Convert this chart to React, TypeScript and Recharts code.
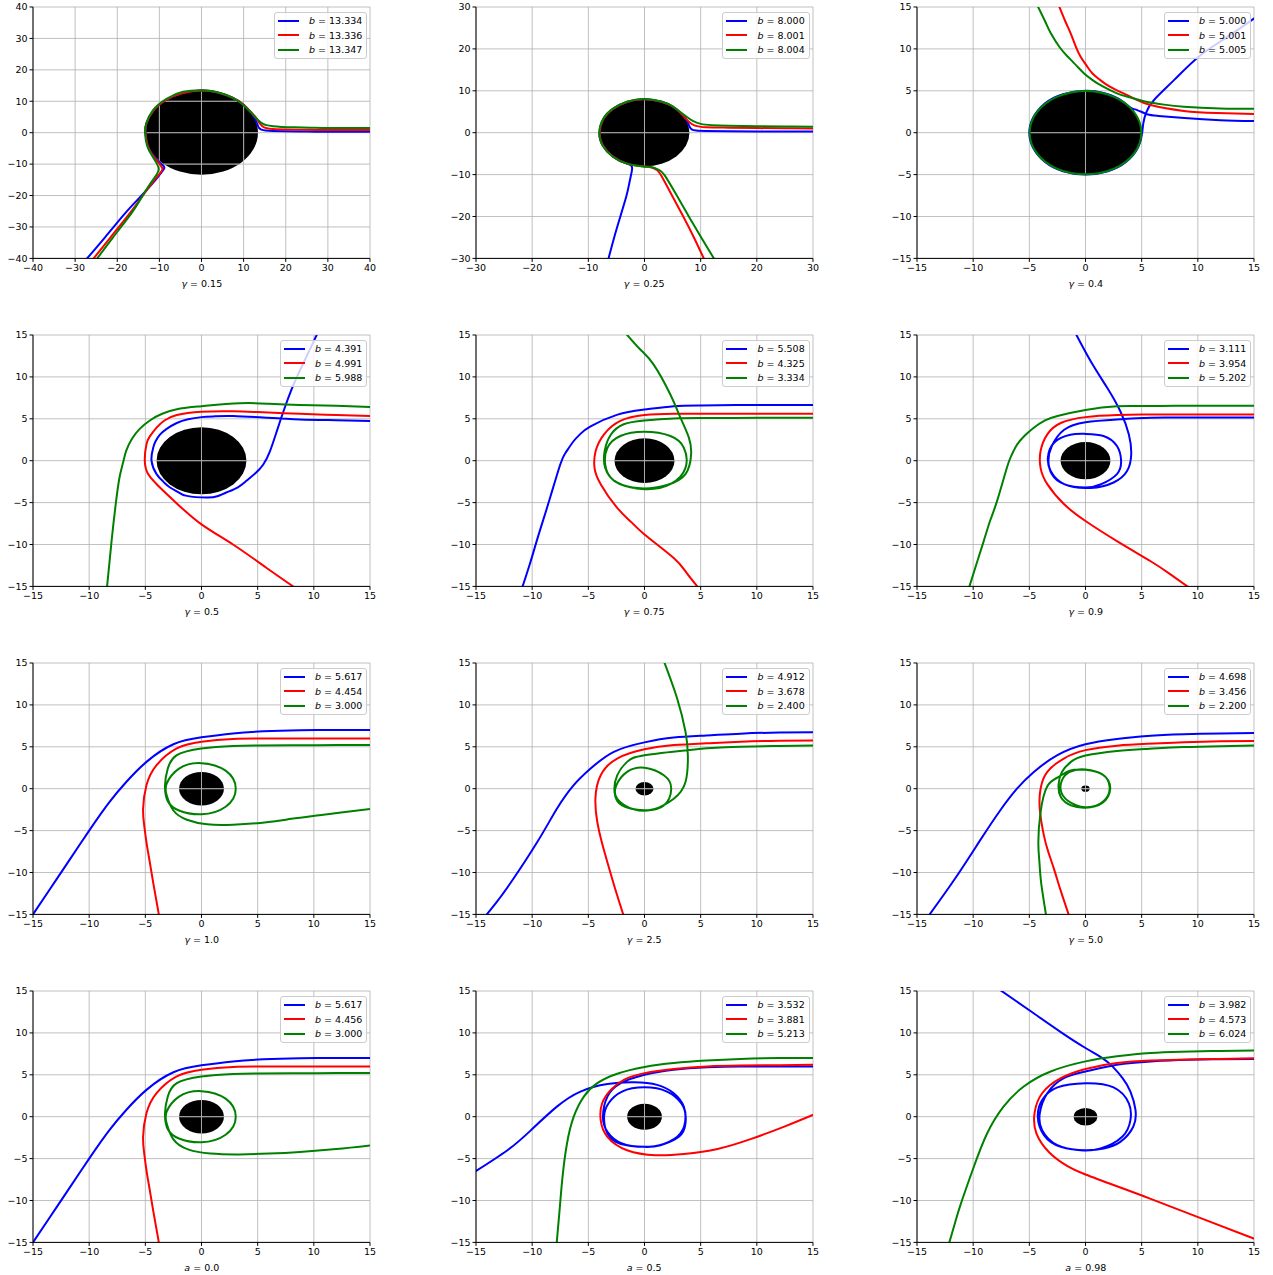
import React from 'react';
import { LineChart, Line, XAxis, YAxis, ReferenceArea, ReferenceLine } from 'recharts';

type Pt = [number, number];

const BLUE = '#0000ff';
const RED = '#ff0000';
const GREEN = '#008000';

// tick sets
const ticks40 = [-40, -30, -20, -10, 0, 10, 20, 30, 40];
const ticks30 = [-30, -20, -10, 0, 10, 20, 30];
const ticks15 = [-15, -10, -5, 0, 5, 10, 15];

// panel captions
const captionSymbols = ['γ', 'γ', 'γ', 'γ', 'γ', 'γ', 'γ', 'γ', 'γ', 'a', 'a', 'a'];
const captionValues = ['0.15', '0.25', '0.4', '0.5', '0.75', '0.9', '1.0', '2.5', '5.0', '0.0', '0.5', '0.98'];

// impact parameters (blue, red, green) per panel
const bValues = [
  ['13.334', '13.336', '13.347'],
  ['8.000', '8.001', '8.004'],
  ['5.000', '5.001', '5.005'],
  ['4.391', '4.991', '5.988'],
  ['5.508', '4.325', '3.334'],
  ['3.111', '3.954', '5.202'],
  ['5.617', '4.454', '3.000'],
  ['4.912', '3.678', '2.400'],
  ['4.698', '3.456', '2.200'],
  ['5.617', '4.456', '3.000'],
  ['3.532', '3.881', '5.213'],
  ['3.982', '4.573', '6.024'],
];

// horizon radius drawn as the black disk
const horizonRadii = [13.4, 8, 5, 4, 2.67, 2.22, 2, 0.8, 0.37, 2, 1.55, 1.05];

// --- trajectories ---
const p1Blue: Pt[] = [[42, 0.3], [36, 0.3], [30, 0.3], [25, 0.35], [20, 0.45], [17, 0.55], [15.2, 0.7], [14.2, 1.0], [13.6, 1.6], [13.3, 2.6], [12.7, 4.4], [11.6, 6.6], [10, 8.9], [7.5, 11.1], [3.6, 12.9], [0, 13.4], [-4.4, 12.65], [-8.3, 10.5], [-11.5, 6.9], [-13.1, 2.8], [-13.3, 0], [-12.8, -4], [-11.5, -7.1], [-10, -9.4], [-9, -10.6], [-8.9, -11.5], [-9.5, -12.6], [-11, -15.2], [-14.5, -20.4], [-18.1, -25.6], [-22.9, -33.3], [-27.8, -41]];
const p1Red: Pt[] = [[42, 0.85], [36, 0.85], [30, 0.85], [25, 0.9], [20, 1.0], [17, 1.15], [15.5, 1.4], [14.6, 1.9], [13.8, 3.0], [13.1, 4.5], [12, 6.2], [10, 8.9], [7.5, 11.1], [3.6, 12.9], [0, 13.4], [-4.4, 12.65], [-8.3, 10.5], [-11.5, 6.9], [-13.1, 2.8], [-13.3, 0], [-12.8, -4], [-11.6, -7.2], [-10.3, -9.4], [-9.5, -10.8], [-9.3, -11.8], [-10, -13.2], [-11.6, -15.8], [-14.3, -20.7], [-17, -25.6], [-21.6, -33.3], [-26.2, -41]];
const p1Green: Pt[] = [[42, 1.5], [36, 1.5], [30, 1.5], [26, 1.6], [22, 1.7], [19, 1.85], [17, 2.05], [15.4, 2.4], [14.5, 2.9], [13.6, 3.8], [12.3, 5.6], [10.3, 8.4], [7.5, 11.0], [3.6, 12.95], [0, 13.5], [-4.4, 13.0], [-8.3, 10.8], [-11.5, 7.2], [-13.1, 3.0], [-13.4, 0], [-12.9, -4.2], [-11.7, -7.4], [-10.7, -9.6], [-10.2, -11.2], [-10.5, -13], [-12.3, -16.5], [-14.4, -21], [-16.6, -25.6], [-21, -33.3], [-25.3, -41]];

const p2Blue: Pt[] = [[32, 0.25], [26, 0.27], [20, 0.3], [15, 0.33], [11, 0.4], [9.2, 0.5], [8.4, 0.8], [8.0, 1.5], [7.6, 2.7], [6.6, 4.5], [5, 6.25], [3, 7.4], [0, 8], [-3, 7.4], [-5.6, 5.7], [-7.3, 3.3], [-8, 0], [-7.4, -3.05], [-5.6, -5.7], [-3.6, -7.15], [-2.4, -7.8], [-2.2, -8.6], [-2.35, -9.8], [-2.7, -12], [-3.2, -15], [-4.3, -20], [-5.4, -25], [-6.6, -31]];
const p2Red: Pt[] = [[32, 1.0], [26, 1.05], [20, 1.1], [15, 1.2], [11, 1.3], [9, 1.7], [8, 2.5], [7.2, 3.6], [6.3, 4.9], [5, 6.25], [3, 7.4], [0, 8], [-3, 7.4], [-5.6, 5.7], [-7.3, 3.3], [-8, 0], [-7.4, -3.05], [-5.6, -5.7], [-3, -7.45], [0, -8.05], [1.3, -8.3], [2.2, -8.9], [3, -10.3], [4.9, -15], [6.9, -20], [8.8, -25], [10.9, -31]];
const p2Green: Pt[] = [[32, 1.4], [26, 1.45], [20, 1.55], [15, 1.65], [12, 1.8], [10, 2.1], [8.6, 2.8], [7.6, 3.7], [6.5, 4.8], [5, 6.3], [3, 7.45], [0, 8.05], [-3, 7.45], [-5.6, 5.75], [-7.35, 3.3], [-8.05, 0], [-7.45, -3.1], [-5.65, -5.75], [-3, -7.45], [0, -8.1], [1.5, -8.3], [2.6, -8.9], [3.6, -10.2], [5.75, -15], [7.9, -20], [10.1, -25], [12.8, -31]];

const p3Blue: Pt[] = [[15.5, 1.38], [12, 1.5], [8.8, 1.75], [6.5, 2.0], [5.5, 2.2], [4.6, 2.7], [4.0, 3.0], [3, 4.0], [1.6, 4.75], [0, 5], [-2, 4.6], [-3.6, 3.5], [-4.7, 1.7], [-5, 0], [-4.7, -1.7], [-3.6, -3.5], [-2, -4.6], [0, -5], [2, -4.6], [3.6, -3.5], [4.7, -1.7], [5.05, 0], [5.15, 1.15], [5.4, 2.4], [6.1, 3.9], [7.9, 6.3], [10.1, 9.1], [12.6, 11.4], [15.5, 14.1]];
const p3Red: Pt[] = [[-2.5, 15.6], [-1.8, 13.3], [-1.34, 11.9], [-0.9, 10.4], [-0.45, 9.1], [0.1, 8.0], [0.6, 7.1], [1.2, 6.4], [1.8, 5.8], [2.8, 5.05], [4.3, 4.1], [5.8, 3.3], [8.76, 2.6], [11.7, 2.35], [15.5, 2.2]];
const p3Green: Pt[] = [[-4.4, 15.5], [-3.6, 13.3], [-3.1, 11.9], [-2.3, 10.2], [-1.6, 9.1], [-0.8, 8.0], [-0.15, 7.1], [0.6, 6.3], [1.3, 5.7], [2.8, 4.7], [4.0, 4.2], [5.2, 3.75], [7, 3.35], [8.76, 3.1], [12, 2.9], [15.5, 2.85]];
// green rim traced on the horizon of the gamma = 0.4 panel
const p3Rim: Pt[] = [[5.03, 0], [4.86, 1.3], [4.36, 2.52], [3.56, 3.56], [2.52, 4.36], [1.3, 4.86], [0, 5.03], [-1.3, 4.86], [-2.52, 4.36], [-3.56, 3.56], [-4.36, 2.52], [-4.86, 1.3], [-5.03, 0], [-4.86, -1.3], [-4.36, -2.52], [-3.56, -3.56], [-2.52, -4.36], [-1.3, -4.86], [0, -5.03], [1.3, -4.86], [2.52, -4.36], [3.56, -3.56], [4.36, -2.52], [4.86, -1.3]];

const p4Blue: Pt[] = [[15.5, 4.72], [12, 4.83], [8.76, 4.93], [5.8, 5.13], [2.8, 5.33], [1.2, 5.3], [0, 5.2], [-1.2, 4.95], [-2.2, 4.5], [-3.1, 3.8], [-3.7, 3.1], [-4.1, 2.3], [-4.3, 1.55], [-4.45, 0], [-4.0, -1.6], [-3.4, -2.5], [-2.8, -3.2], [-2, -3.8], [-1.3, -4.2], [0.45, -4.4], [1.4, -4.25], [2.2, -3.8], [3.2, -3.2], [4.0, -2.4], [4.8, -1.5], [5.5, -0.45], [6.1, 1.15], [6.7, 3.5], [7.3, 5.9], [8.2, 9.1], [9.2, 12.0], [10.5, 15.7]];
const p4Red: Pt[] = [[15.5, 5.3], [12, 5.45], [8.76, 5.6], [5, 5.8], [2.8, 5.9], [0, 5.85], [-2.2, 5.45], [-3.3, 4.8], [-4.0, 3.94], [-4.6, 2.9], [-4.9, 1.95], [-5.05, 0], [-4.75, -1.6], [-4.2, -2.5], [-3.7, -3.2], [-2.2, -5.1], [0, -7.6], [2.8, -10], [5.8, -12.8], [8.8, -15.6]];
const p4Green: Pt[] = [[15.5, 6.4], [12, 6.55], [8.76, 6.65], [6, 6.8], [3.4, 6.85], [0, 6.5], [-2, 6.2], [-3.5, 5.6], [-4.6, 4.8], [-5.5, 3.8], [-6.2, 2.6], [-6.7, 1.2], [-7.0, -0.3], [-7.3, -2.0], [-7.6, -4.8], [-8.0, -9.5], [-8.45, -15.6]];

const p5Blue: Pt[] = [[15.5, 6.65], [12, 6.65], [8.4, 6.65], [5, 6.6], [2.6, 6.5], [0, 6.1], [-2.4, 5.5], [-4.8, 4.1], [-5.7, 3.2], [-6.3, 2.35], [-7.0, 1.0], [-7.5, -0.45], [-8.4, -4.4], [-9.0, -7.0], [-9.6, -9.6], [-10.2, -12.3], [-11.0, -15.6]];
const p5Red: Pt[] = [[15.5, 5.6], [12, 5.6], [8, 5.6], [5, 5.6], [2.6, 5.6], [0, 5.45], [-2.15, 4.75], [-3.6, 3.15], [-4.35, 1.15], [-4.45, -0.85], [-3.9, -2.8], [-2.45, -5.6], [-1.2, -7.3], [0, -8.8], [2.6, -11.6], [3.7, -13.3], [5.0, -15.5]];
const p5Green: Pt[] = [[15.5, 5.13], [12, 5.13], [8, 5.1], [5, 5.1], [2.6, 5.05], [0, 4.8], [-1.85, 4.35], [-3.0, 3.1], [-3.55, 1.15], [-3.5, -0.85], [-2.45, -2.6], [0, -3.4], [2.3, -2.8], [3.65, -0.85], [3.5, 1.55], [2.3, 2.95], [0, 3.45], [-2.15, 2.95], [-3.3, 1.55], [-3.5, -0.45], [-2.7, -2.4], [-0.35, -3.3], [2.0, -2.9], [3.65, -1.6], [4.15, 0.75], [3.95, 2.75], [3.2, 5.13], [2.3, 7.9], [0.8, 11.5], [-0.4, 13.3], [-1.8, 15.4]];

const p6Blue: Pt[] = [[15.5, 5.15], [12, 5.15], [8.5, 5.14], [5.8, 5.13], [2.8, 4.93], [0, 4.6], [-1.9, 3.7], [-3.0, 1.75], [-3.3, 0], [-3.0, -1.6], [-1.9, -2.8], [0, -3.2], [1.4, -2.8], [2.8, -1.6], [3.17, 0], [2.8, 1.75], [1.6, 2.95], [0, 3.2], [-1.35, 3.1], [-2.8, 2.15], [-3.35, 0.35], [-3.1, -1.23], [-1.9, -2.8], [0.45, -3.25], [2.5, -2.6], [3.7, -1.23], [4.07, 0.75], [3.86, 3.14], [3.1, 5.9], [1.93, 8.7], [0.45, 11.9], [-1.0, 15.5]];
const p6Red: Pt[] = [[15.5, 5.5], [12, 5.52], [8, 5.5], [5, 5.5], [2.8, 5.45], [0, 5.2], [-2.2, 4.5], [-3.4, 3.14], [-4.0, 1.15], [-4.0, -0.85], [-3.4, -2.8], [-1.9, -5.2], [0, -7.2], [2.8, -9.6], [5.8, -12], [7.5, -13.5], [9.6, -15.5]];
const p6Green: Pt[] = [[15.5, 6.55], [12, 6.55], [8, 6.55], [5, 6.52], [2.8, 6.5], [0, 6.05], [-2.5, 5.33], [-3.6, 4.8], [-4.6, 3.94], [-5.4, 3.0], [-6.1, 1.9], [-6.6, 0.6], [-7.0, -0.85], [-7.87, -4.8], [-8.5, -7.2], [-9.06, -9.6], [-9.7, -12.3], [-10.45, -15.5]];

const p7Blue: Pt[] = [[15.5, 7.0], [12, 7.0], [8.76, 6.97], [5.5, 6.85], [2.8, 6.6], [0, 6.13], [-2.5, 5.3], [-4.9, 3.2], [-6.7, 0.8], [-8.2, -1.6], [-10, -5], [-12, -9], [-13.5, -12], [-15.3, -15.6]];
const p7Red: Pt[] = [[15.5, 6.0], [12, 6.0], [8, 6.0], [5, 5.98], [2.8, 5.93], [0, 5.6], [-2.2, 4.8], [-4.0, 2.8], [-4.9, 0.4], [-5.2, -2.4], [-5.1, -4.4], [-4.9, -6.4], [-4.6, -8.8], [-4.3, -11.2], [-3.72, -15.6]];
const p7Green: Pt[] = [[15.5, 5.2], [12, 5.2], [8, 5.18], [5, 5.15], [2.8, 5.1], [0, 4.8], [-2.2, 4.0], [-3.0, 2.4], [-3.25, 0.4], [-3.0, -1.5], [-2.0, -2.6], [0, -3.05], [2.15, -2.15], [3.05, 0], [2.15, 2.15], [0, 3.05], [-2.0, 2.4], [-3.1, 0.6], [-3.1, -0.8], [-2.5, -2.6], [-1.3, -3.7], [0.5, -4.25], [2.8, -4.3], [5.8, -4.0], [8, -3.6], [10.25, -3.2], [12.6, -2.8], [15.5, -2.35]];

const p8Blue: Pt[] = [[15.5, 6.73], [12, 6.7], [8.55, 6.57], [5.5, 6.35], [2.6, 6.1], [0, 5.53], [-2.73, 4.4], [-4.8, 2.4], [-6.3, 0.42], [-7.8, -2.4], [-9.56, -6.4], [-11.9, -11.2], [-13.2, -13.6], [-14.4, -15.6]];
const p8Red: Pt[] = [[15.5, 5.77], [12, 5.72], [8.55, 5.6], [5.5, 5.42], [2.6, 5.2], [0, 4.7], [-2.43, 3.6], [-3.9, 1.6], [-4.37, -1.2], [-4.2, -4.0], [-3.8, -6.4], [-3.3, -8.8], [-2.6, -12], [-1.75, -15.6]];
const p8Green: Pt[] = [[15.5, 5.17], [12, 5.1], [8.55, 5.0], [6, 4.85], [3.8, 4.6], [0, 4.0], [-1.55, 3.2], [-2.43, 1.6], [-2.67, -0.38], [-2.0, -2.0], [0, -2.58], [1.72, -2.0], [2.38, 0], [1.72, 1.6], [0, 2.5], [-1.55, 2.0], [-2.5, 0.42], [-2.43, -1.2], [-0.95, -2.46], [0.83, -2.46], [2.6, -1.2], [3.65, 0.8], [3.86, 4.0], [3.65, 6.8], [2.9, 10.8], [1.65, 15.5]];

const p9Blue: Pt[] = [[15.5, 6.65], [12, 6.6], [8.76, 6.5], [5.5, 6.3], [2.8, 5.93], [0, 5.3], [-2.5, 4.0], [-4.6, 2.0], [-6.1, 0], [-7.6, -2.6], [-9.4, -6.2], [-11.7, -10.9], [-14.2, -15.6]];
const p9Red: Pt[] = [[15.5, 5.7], [12, 5.65], [8.76, 5.53], [5.5, 5.35], [2.8, 5.13], [0, 4.6], [-1.93, 3.6], [-3.4, 2.0], [-4.0, 0], [-4.07, -2.4], [-3.7, -5.6], [-3.3, -7.6], [-2.8, -9.6], [-2.2, -12.2], [-1.35, -15.6]];
const p9Green: Pt[] = [[15.5, 5.15], [12, 5.08], [8.76, 4.97], [5.5, 4.75], [2.8, 4.5], [0, 3.95], [-1.3, 3.2], [-2.1, 2.0], [-2.4, 0.5], [-2.2, -1.0], [-1.3, -2.0], [0, -2.28], [1.5, -1.7], [2.2, 0], [1.6, 1.6], [0, 2.3], [-1.4, 2.0], [-2.1, 1.0], [-2.2, -0.2], [-1.6, -1.4], [0, -2.2], [1.6, -1.5], [2.15, 0.2], [1.5, 1.7], [0, 2.25], [-1.4, 2.15], [-2.4, 1.4], [-3.4, 0.3], [-4.0, -2.8], [-4.2, -6.4], [-4.1, -8.8], [-3.95, -11.2], [-3.45, -15.6]];

const p10Blue: Pt[] = [[15.5, 7.0], [12, 7.0], [8.76, 6.97], [5.5, 6.85], [2.8, 6.6], [0, 6.13], [-2.5, 5.3], [-4.9, 3.2], [-6.7, 0.8], [-8.2, -1.6], [-10, -5], [-12, -9], [-13.5, -12], [-15.3, -15.6]];
const p10Red: Pt[] = [[15.5, 6.0], [12, 6.0], [8, 6.0], [5, 5.98], [2.8, 5.93], [0, 5.6], [-2.2, 4.8], [-4.0, 2.8], [-4.9, 0.4], [-5.2, -2.4], [-5.1, -4.4], [-4.9, -6.4], [-4.6, -8.8], [-4.3, -11.2], [-3.72, -15.6]];
const p10Green: Pt[] = [[15.5, 5.2], [12, 5.2], [8, 5.18], [5, 5.15], [2.8, 5.1], [0, 4.8], [-2.2, 4.0], [-3.0, 2.4], [-3.25, 0.4], [-3.0, -1.5], [-2.0, -2.6], [0, -3.05], [2.15, -2.15], [3.05, 0], [2.15, 2.15], [0, 3.05], [-2.0, 2.4], [-3.1, 0.6], [-3.1, -0.8], [-2.5, -2.7], [-1.2, -3.9], [0.8, -4.4], [3.4, -4.5], [6, -4.4], [8.76, -4.2], [12, -3.85], [15.5, -3.35]];

const p11Blue: Pt[] = [[-15.5, -6.9], [-12.2, -4.0], [-10.1, -1.6], [-7.8, 1.2], [-5.7, 3.0], [-3.3, 3.9], [-0.95, 4.1], [1.13, 3.8], [2.6, 2.8], [3.5, 1.2], [3.65, -0.8], [3.06, -2.4], [1.43, -3.4], [0, -3.6], [-2.1, -3.25], [-3.3, -2.0], [-3.6, 0], [-3.2, 1.6], [-2.0, 3.0], [0, 3.5], [2.0, 3.0], [3.27, 1.6], [3.65, 0], [3.2, -2.0], [1.72, -3.25], [0, -3.6], [-2.0, -3.2], [-3.3, -1.8], [-3.7, 0], [-3.3, 2.4], [-2.1, 4.0], [0, 5.0], [2.6, 5.6], [5.6, 5.9], [8.5, 6.0], [12, 6.0], [15.5, 6.0]];
const p11Red: Pt[] = [[15.5, 0.5], [12.5, -1.15], [9.5, -2.65], [6.5, -3.85], [3.5, -4.45], [1.0, -4.6], [-1.55, -4.0], [-3.3, -2.4], [-3.9, -0.4], [-3.77, 1.6], [-3.0, 3.2], [-1.84, 4.4], [0, 5.2], [2.6, 5.7], [5.6, 6.0], [8.5, 6.1], [12, 6.15], [15.5, 6.2]];
const p11Green: Pt[] = [[15.5, 7.0], [12, 7.0], [8.55, 6.9], [5.5, 6.7], [2.6, 6.4], [0, 5.93], [-2.43, 5.13], [-4.2, 4.0], [-5.4, 2.4], [-6.3, 0], [-6.9, -3.2], [-7.3, -7.2], [-7.55, -11], [-7.85, -15.6]];

const p12Blue: Pt[] = [[-7.9, 15.4], [-5.0, 12.7], [-2.2, 10.1], [0, 8.2], [1.5, 7.0], [2.4, 6.0], [3.3, 4.6], [4.0, 3.0], [4.45, 0.8], [4.25, -1.2], [3.1, -3.0], [1.63, -3.8], [0, -4.0], [-2.2, -3.6], [-3.7, -2.2], [-4.25, 0], [-3.86, 2.0], [-2.5, 3.5], [0, 4.0], [2.5, 3.5], [3.86, 1.6], [4.0, -0.4], [3.27, -2.4], [1.34, -3.8], [-0.45, -4.0], [-2.5, -3.4], [-3.86, -1.6], [-4.07, 0.4], [-3.4, 2.8], [-1.93, 4.6], [0, 5.4], [2.8, 6.2], [5.8, 6.6], [9, 6.8], [12, 6.85], [15.5, 6.9]];
const p12Red: Pt[] = [[15.5, 7.0], [12, 6.9], [8.5, 6.8], [5.8, 6.7], [2.8, 6.4], [0, 5.7], [-2.2, 4.6], [-3.86, 2.8], [-4.54, 0.4], [-4.37, -2.0], [-3.2, -4.3], [-1.6, -5.9], [0, -6.9], [2.8, -8.3], [5.8, -9.8], [10.25, -12.1], [15.5, -14.8]];
const p12Green: Pt[] = [[15.5, 7.9], [12, 7.85], [8.5, 7.75], [5.8, 7.6], [2.8, 7.2], [0, 6.6], [-3.1, 5.4], [-5.5, 3.6], [-7.3, 1.2], [-8.76, -2.0], [-9.95, -6.0], [-11.1, -10.4], [-11.6, -12.6], [-12.25, -15.6]];

const curves: Pt[][][] = [
  [p1Blue, p1Red, p1Green],
  [p2Blue, p2Red, p2Green],
  [p3Blue, p3Red, p3Green],
  [p4Blue, p4Red, p4Green],
  [p5Blue, p5Red, p5Green],
  [p6Blue, p6Red, p6Green],
  [p7Blue, p7Red, p7Green],
  [p8Blue, p8Red, p8Green],
  [p9Blue, p9Red, p9Green],
  [p10Blue, p10Red, p10Green],
  [p11Blue, p11Red, p11Green],
  [p12Blue, p12Red, p12Green],
];
const colors = [BLUE, RED, GREEN];

// layout: top-left corner of each plot area on the page
const colLefts = [33.3, 475.7, 917.3];
const rowTops = [7.3, 335.3, 663.3, 991.3];
const PLOT_W = 337;
const PLOT_H = 251.4;
const M_LEFT = 33; // margin.left + y-axis width
const M_TOP = 7;
const CHART_W = M_LEFT + PLOT_W + 10;
const CHART_H = M_TOP + PLOT_H + 40;
const FONT = 'DejaVu Sans, sans-serif';
const FS = 9.5;
const GRID = '#b0b0b0';

const fmt = (v: number) => (v < 0 ? '\u2212' + Math.abs(v) : String(v));
const toRows = (pts: Pt[]) => pts.map(([x, y]) => ({ x, y }));

const tickStyle = { fontSize: FS, fill: '#000', fontFamily: FONT };

// black disk, with the grid lines that cross it drawn again on top
const makeDisk = (ticks: number[], r: number) => (p: any) => {
  const cx = p.x + p.width / 2;
  const cy = p.y + p.height / 2;
  const kx = p.width / (2 * r);
  const ky = p.height / (2 * r);
  const inner = ticks.filter((t) => Math.abs(t) < r);
  return (
    <g>
      <ellipse cx={cx} cy={cy} rx={p.width / 2} ry={p.height / 2} fill="#000" />
      {inner.map((t) => {
        const h = Math.sqrt(r * r - t * t);
        return (
          <line key={'v' + t} x1={cx + t * kx} x2={cx + t * kx} y1={cy - h * ky} y2={cy + h * ky} stroke={GRID} strokeWidth={0.8} />
        );
      })}
      {inner.map((t) => {
        const h = Math.sqrt(r * r - t * t);
        return (
          <line key={'h' + t} x1={cx - h * kx} x2={cx + h * kx} y1={cy - t * ky} y2={cy - t * ky} stroke={GRID} strokeWidth={0.8} />
        );
      })}
    </g>
  );
};

const Panel = ({ idx }: { idx: number }) => {
  const ticks = idx === 0 ? ticks40 : idx === 1 ? ticks30 : ticks15;
  const dom: [number, number] = [ticks[0], ticks[ticks.length - 1]];
  const r = horizonRadii[idx];
  const left = colLefts[idx % 3] - M_LEFT;
  const top = rowTops[Math.floor(idx / 3)] - M_TOP;

  return (
    <div style={{ position: 'absolute', left, top, width: CHART_W, height: CHART_H + 4 }}>
      <LineChart width={CHART_W} height={CHART_H} margin={{ top: M_TOP, right: 10, bottom: 0, left: 3 }}>
        <XAxis
          type="number"
          dataKey="x"
          domain={dom}
          ticks={ticks}
          interval={0}
          allowDataOverflow
          height={40}
          tickSize={3.5}
          tickMargin={2.5}
          tick={tickStyle}
          tickFormatter={fmt}
          stroke="#000"
        />
        <YAxis
          type="number"
          dataKey="y"
          domain={dom}
          ticks={ticks}
          interval={0}
          allowDataOverflow
          width={30}
          tickSize={3.5}
          tickMargin={2}
          tick={tickStyle}
          tickFormatter={fmt}
          stroke="#000"
        />
        <XAxis xAxisId="top" orientation="top" type="number" domain={dom} allowDataOverflow height={0} tick={false} tickLine={false} stroke="#000" />
        <YAxis yAxisId="right" orientation="right" type="number" domain={dom} allowDataOverflow width={0} tick={false} tickLine={false} stroke="#000" />
        {ticks.map((t) => (
          <ReferenceLine key={'gx' + t} x={t} stroke={GRID} strokeWidth={0.8} />
        ))}
        {ticks.map((t) => (
          <ReferenceLine key={'gy' + t} y={t} stroke={GRID} strokeWidth={0.8} />
        ))}
        <ReferenceArea x1={-r} x2={r} y1={-r} y2={r} shape={makeDisk(ticks, r)} />
        {curves[idx].map((pts, k) => (
          <Line
            key={k}
            data={toRows(pts)}
            dataKey="y"
            type="natural"
            stroke={colors[k]}
            strokeWidth={2}
            dot={false}
            activeDot={false}
            isAnimationActive={false}
          />
        ))}
        {idx === 2 && (
          <Line
            data={toRows(p3Rim)}
            dataKey="y"
            type="basisClosed"
            stroke={GREEN}
            strokeWidth={2}
            dot={false}
            activeDot={false}
            isAnimationActive={false}
          />
        )}
      </LineChart>
      <div
        style={{
          position: 'absolute',
          top: M_TOP + 4.5,
          right: 13,
          border: '1px solid #cccccc',
          borderRadius: 3,
          background: 'rgba(255,255,255,0.8)',
          padding: '1px 4px 1px 3px',
          fontSize: FS,
          fontFamily: FONT,
          color: '#000',
        }}
      >
        {bValues[idx].map((b, k) => (
          <div key={k} style={{ display: 'flex', alignItems: 'center', height: 14.4, whiteSpace: 'nowrap' }}>
            <svg width={21} height={4} style={{ display: 'block' }}>
              <line x1={0} y1={2} x2={21} y2={2} stroke={colors[k]} strokeWidth={2} />
            </svg>
            <span style={{ marginLeft: 10 }}>
              <i>b</i> = {b}
            </span>
          </div>
        ))}
      </div>
      <div
        style={{
          position: 'absolute',
          left: M_LEFT,
          width: PLOT_W,
          top: 278,
          lineHeight: '12px',
          textAlign: 'center',
          fontSize: FS,
          fontFamily: FONT,
          color: '#000',
        }}
      >
        <i>{captionSymbols[idx]}</i> = {captionValues[idx]}
      </div>
    </div>
  );
};

export default function App() {
  return (
    <div style={{ position: 'absolute', left: 0, top: 0, width: 1273, height: 1275, background: '#fff', fontFamily: FONT }}>
      {captionValues.map((_, i) => (
        <Panel key={i} idx={i} />
      ))}
    </div>
  );
}
